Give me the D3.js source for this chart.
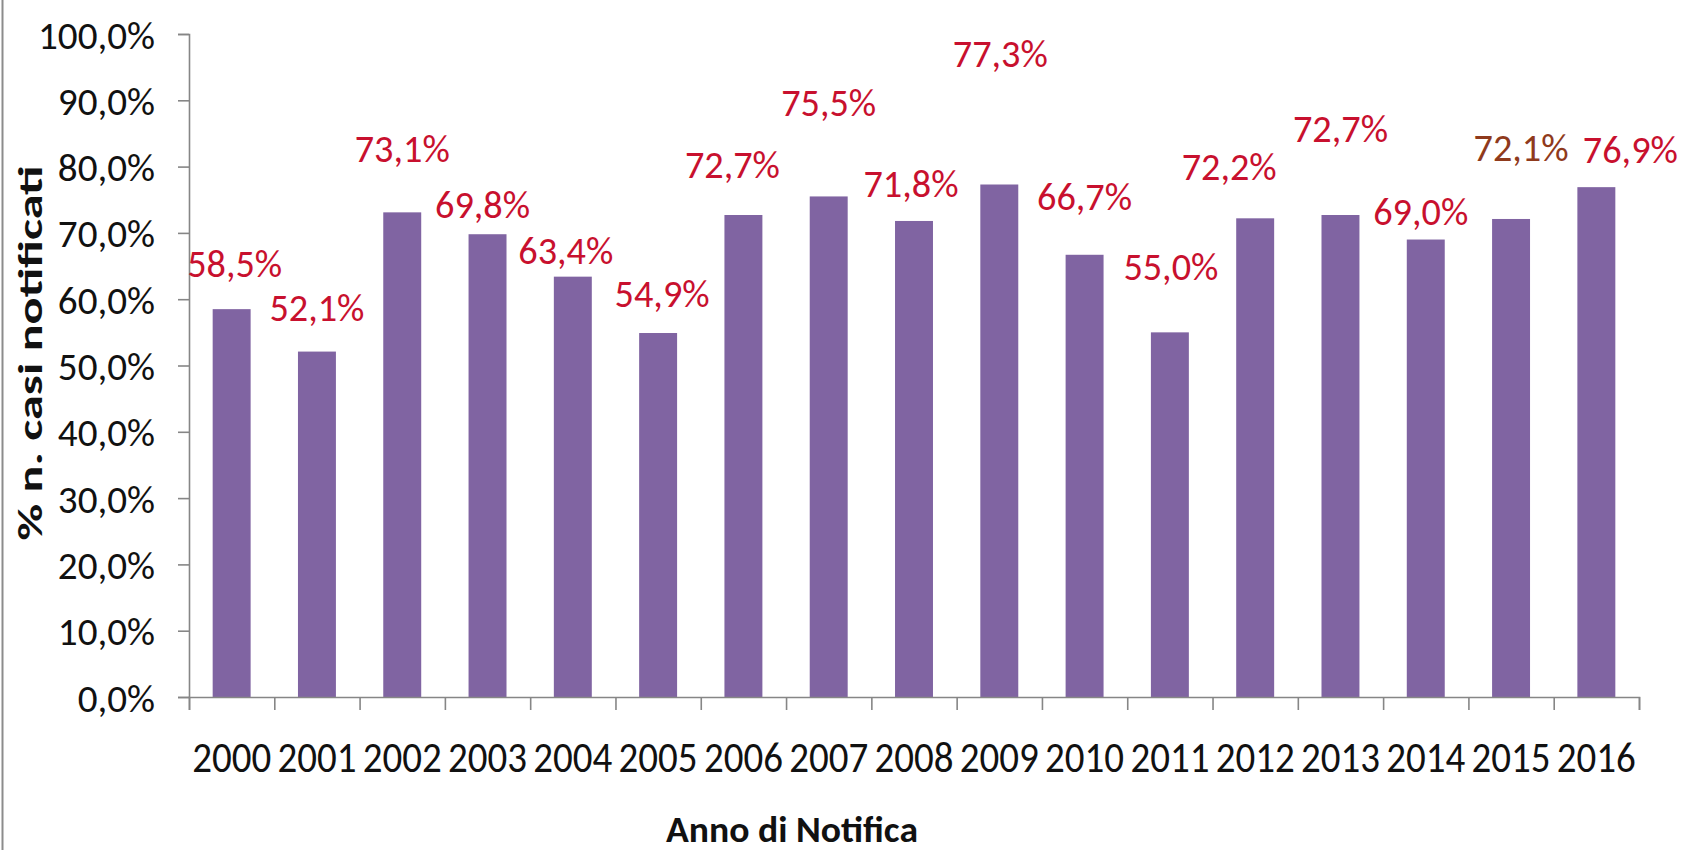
<!DOCTYPE html>
<html>
<head>
<meta charset="utf-8">
<script src="https://cdn.jsdelivr.net/npm/d3@7"></script>
<style>
  html, body { margin: 0; padding: 0; background: #ffffff; }
  svg { display: block; }
  text { font-family: Carlito, Lato, "Open Sans", sans-serif; }
</style>
</head>
<body>
<svg id="chart" width="1681" height="850"></svg>
<script>
// ---------- data ----------
const years = ["2000","2001","2002","2003","2004","2005","2006","2007","2008",
               "2009","2010","2011","2012","2013","2014","2015","2016"];
const values = [58.5, 52.1, 73.1, 69.8, 63.4, 54.9, 72.7, 75.5, 71.8,
                77.3, 66.7, 55.0, 72.2, 72.7, 69.0, 72.1, 76.9];
const yTickValues = [0, 10, 20, 30, 40, 50, 60, 70, 80, 90, 100];
const yTitle = "% n. casi notificati";
const xTitle = "Anno di Notifica";

// ---------- layout / style (manually placed data labels, px offsets from bar top centre) ----------
const labelDx = [3, 0, 0, -5, -7, 4, -11, 0, -3, 1, 0, 1, -26, 0, -5, 10, 34];
const labelDy = [-46, -45, -64, -30, -27, -40, -51, -94, -38, -132, -59, -66, -52, -87, -29, -72, -38];
const labelColor = years.map((d, i) => i === 15 ? "#8f3a1c" : "#c8102e");

const W = 1681, H = 850;
const svg = d3.select("#chart");

const x = d3.scaleBand().domain(years).range([189, 1639])
  .paddingInner(0.555).paddingOuter(0.2775);
const y = d3.scaleLinear().domain([0, 100]).range([697, 34]);
const xEdge = d3.scaleLinear().domain([0, years.length]).range([189, 1639]);

const fmt = v => d3.format(".1f")(v).replace(".", ",") + "%";
const axisColor = "#868686";

// frame line at the left
svg.append("line").attr("x1", 2.5).attr("x2", 2.5).attr("y1", 0).attr("y2", H)
  .attr("stroke", "#8c8c8c").attr("stroke-width", 2);

// bars
svg.append("g").selectAll("rect").data(values).join("rect")
  .attr("x", (d, i) => x(years[i]))
  .attr("y", d => y(d))
  .attr("width", x.bandwidth())
  .attr("height", d => y(0) - y(d))
  .attr("fill", "#8064a2");

// y axis
const gy = svg.append("g").attr("transform", "translate(189,0)")
  .call(d3.axisLeft(y).tickValues(yTickValues).tickSize(11).tickPadding(23).tickFormat(fmt));
gy.select(".domain").attr("stroke", axisColor).attr("stroke-width", 1.6);
gy.selectAll(".tick line").attr("stroke", axisColor).attr("stroke-width", 1.6);
gy.selectAll(".tick text").attr("font-size", 39).attr("fill", "#111").attr("dy", "0.36em");

// x axis: boundary ticks
const gxt = svg.append("g").attr("transform", "translate(0,697)")
  .call(d3.axisBottom(xEdge).tickValues(d3.range(years.length + 1)).tickSize(13).tickFormat(""));
gxt.select(".domain").attr("stroke", axisColor).attr("stroke-width", 1.6);
gxt.selectAll(".tick line").attr("stroke", axisColor).attr("stroke-width", 1.6);

// x axis: year labels
const gx = svg.append("g").attr("transform", "translate(0,697)")
  .call(d3.axisBottom(x).tickSize(0).tickPadding(0));
gx.select(".domain").remove();
gx.selectAll(".tick text").attr("font-size", 44).attr("fill", "#111")
  .attr("y", 75).attr("dy", 0);

// data labels
svg.append("g").selectAll("text").data(values).join("text")
  .attr("class", "dlabel")
  .attr("x", (d, i) => x(years[i]) + x.bandwidth() / 2 + labelDx[i])
  .attr("y", (d, i) => y(d) + labelDy[i])
  .attr("dy", "0.36em")
  .attr("text-anchor", "middle")
  .attr("font-size", 39)
  .attr("fill", (d, i) => labelColor[i])
  .text(d => fmt(d));

// axis titles
svg.append("text").attr("class", "ytitle")
  .attr("transform", "translate(42,353) rotate(-90)")
  .attr("text-anchor", "middle").attr("font-size", 34).attr("font-weight", "bold")
  .attr("fill", "#111").text(yTitle);
svg.append("text").attr("class", "xtitle")
  .attr("x", 792).attr("y", 842)
  .attr("text-anchor", "middle").attr("font-size", 36).attr("font-weight", "bold")
  .attr("fill", "#111").text(xTitle);

// horizontal compression to imitate the condensed look of the original type
function fitWidth(sel, sampleText, target) {
  let k = 1;
  sel.each(function () {
    if (this.textContent === sampleText) k = target / this.getComputedTextLength();
  });
  sel.each(function () {
    const w = this.getComputedTextLength();
    d3.select(this).attr("textLength", w * k).attr("lengthAdjust", "spacingAndGlyphs");
  });
}
fitWidth(gy.selectAll(".tick text"), "100,0%", 117);
fitWidth(gx.selectAll(".tick text"), "2000", 79);
fitWidth(svg.selectAll(".dlabel"), "77,3%", 95);
fitWidth(svg.selectAll(".ytitle"), yTitle, 375);
fitWidth(svg.selectAll(".xtitle"), xTitle, 252);
</script>
</body>
</html>
